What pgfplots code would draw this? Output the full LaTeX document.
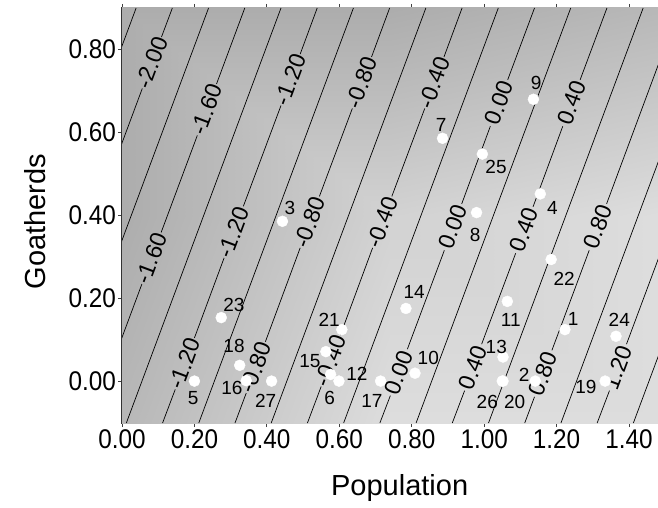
\documentclass[border=0pt]{standalone}
\usepackage{fontspec}
\setmainfont{Liberation Sans}
\newfontfamily\narrowsans[FakeStretch=0.9]{Liberation Sans}
\usepackage{pgfplots}
\usepackage{pgfplotstable}
\pgfplotsset{compat=1.18}

% sites: position, label, label offset (pt) from the dot
\pgfplotstableread{
x     y     lab dx    dy
1.223 0.125 1   8.3   10.7
1.141 0.001 2   -11   6.7
0.443 0.386 3   7.4   13
1.155 0.452 4   12    -14
0.200 0.001 5   -1.3  -17.3
0.576 0.017 6   -1    -24
0.885 0.586 7   -1.3  13.3
0.979 0.407 8   -1.3  -22.3
1.136 0.680 9   2.7   16.3
0.809 0.020 10  13.3  15.4
1.064 0.193 11  3.4   -18.3
0.599 0.001 12  18    7.7
1.052 0.059 13  -6.7  10
0.784 0.176 14  8.3   16.6
0.563 0.072 15  -16   -9.7
0.343 0.002 16  -14.3 -7
0.714 0.001 17  -8.7  -20
0.325 0.039 18  -5.7  19
1.334 0.001 19  -19.3 -6
1.052 0.001 20  11.7  -21
0.607 0.125 21  -12.7 10
1.185 0.294 22  13    -19
0.274 0.154 23  12.7  12.3
1.364 0.109 24  3.3   16.7
0.995 0.548 25  13.7  -13
1.050 0.001 26  -15   -21
0.413 0.001 27  -6    -20
}\sites

\begin{document}
\begin{tikzpicture}[
  cline/.style={black, line width=0.7pt},
  clab/.style={sloped, inner sep=0pt, font=\fontsize{23}{23}\selectfont},
]
\begin{axis}[
  at={(0,0)}, anchor=south west,
  scale only axis, width=536pt, height=415pt,
  xmin=0, xmax=1.48, ymin=-0.1, ymax=0.9,
  unbounded coords=jump,
  xtick={0,0.2,0.4,0.6,0.8,1.0,1.2,1.4},
  ytick={0,0.2,0.4,0.6,0.8},
  xtick pos=both, ytick pos=left,
  tick align=outside, major tick length=4pt,
  tick style={black!75, line width=0.8pt},
  axis line style={black!80, line width=1.3pt},
  /pgf/number format/fixed, /pgf/number format/fixed zerofill,
  /pgf/number format/precision=2,
  /pgf/number format/assume math mode=true,
  tick label style={font=\narrowsans\fontsize{27}{27}\selectfont},
  xticklabel style={inner sep=2pt},
  yticklabel style={inner sep=2pt},
  xlabel={Population}, ylabel={Goatherds},
  label style={font=\fontsize{29}{29}\selectfont},
  xlabel style={at={(axis description cs:0.518,0)}, anchor=base, yshift=-72pt},
  ylabel style={at={(axis description cs:-0.162,0.485)}, anchor=center},
  colormap={greyramp}{rgb255=(135,135,135) rgb255=(232,232,232)},
  point meta min=-2.2777, point meta max=1.5353,
]
% background surface, coloured by the fitted value
\addplot[matrix plot*, shader=interp, point meta=explicit, mesh/cols=2] coordinates {
  (0,-0.1) [-1.4247] (1.48,-0.1) [1.5353]
  (0,0.9) [-2.2777] (1.48,0.9) [0.6823]
};

% contour lines, interval 0.2 (labelled ones broken where the label sits)
\addplot[cline] coordinates {(-0.388,-0.1) (0.039,0.9)};
\addplot[cline] coordinates {(-0.288,-0.1) (0.056,0.706) (nan,nan) (0.109,0.830) (0.139,0.9)};
\addplot[cline] coordinates {(-0.188,-0.1) (0.239,0.9)};
\addplot[cline] coordinates {(-0.088,-0.1) (0.055,0.235) (nan,nan) (0.108,0.359) (0.208,0.593)
  (nan,nan) (0.261,0.717) (0.339,0.9)};
\addplot[cline] coordinates {(0.012,-0.1) (0.439,0.9)};
\addplot[cline] coordinates {(0.112,-0.1) (0.147,-0.019) (nan,nan) (0.200,0.105) (0.282,0.298)
  (nan,nan) (0.335,0.422) (0.439,0.665) (nan,nan) (0.492,0.789) (0.539,0.9)};
\addplot[cline] coordinates {(0.212,-0.1) (0.639,0.9)};
\addplot[cline] coordinates {(0.312,-0.1) (0.343,-0.028) (nan,nan) (0.396,0.096) (0.492,0.322)
  (nan,nan) (0.545,0.446) (0.636,0.658) (nan,nan) (0.689,0.782) (0.739,0.9)};
\addplot[cline] coordinates {(0.412,-0.1) (0.839,0.9)};
\addplot[cline] coordinates {(0.512,-0.1) (0.550,-0.012) (nan,nan) (0.603,0.112) (0.692,0.322)
  (nan,nan) (0.745,0.446) (0.836,0.658) (nan,nan) (0.889,0.782) (0.939,0.9)};
\addplot[cline] coordinates {(0.612,-0.1) (1.039,0.9)};
\addplot[cline] coordinates {(0.712,-0.1) (0.741,-0.034) (nan,nan) (0.788,0.078) (0.890,0.316)
  (nan,nan) (0.938,0.428) (1.017,0.615) (nan,nan) (1.065,0.727) (1.139,0.9)};
\addplot[cline] coordinates {(0.812,-0.1) (1.239,0.9)};
\addplot[cline] coordinates {(0.912,-0.1) (0.946,-0.022) (nan,nan) (0.993,0.090) (1.087,0.309)
  (nan,nan) (1.135,0.421) (1.217,0.615) (nan,nan) (1.265,0.727) (1.339,0.9)};
\addplot[cline] coordinates {(1.012,-0.1) (1.439,0.9)};
\addplot[cline] coordinates {(1.112,-0.1) (1.139,-0.037) (nan,nan) (1.187,0.075) (1.290,0.316)
  (nan,nan) (1.338,0.428) (1.539,0.9)};
\addplot[cline] coordinates {(1.212,-0.1) (1.639,0.9)};
\addplot[cline] coordinates {(1.312,-0.1) (1.346,-0.022) (nan,nan) (1.393,0.090) (1.739,0.9)};
\addplot[cline] coordinates {(1.412,-0.1) (1.839,0.9)};

% contour labels, placed along the (invisible) full lines
\addplot[draw=none] coordinates {(-0.288,-0.1) (0.139,0.9)}
  node[clab,pos=0.868] {-2.00};
\addplot[draw=none] coordinates {(-0.088,-0.1) (0.339,0.9)}
  node[clab,pos=0.397] {-1.60} node[clab,pos=0.755] {-1.60};
\addplot[draw=none] coordinates {(0.112,-0.1) (0.539,0.9)}
  node[clab,pos=0.143] {-1.20} node[clab,pos=0.46] {-1.20}
  node[clab,pos=0.827] {-1.20};
\addplot[draw=none] coordinates {(0.312,-0.1) (0.739,0.9)}
  node[clab,pos=0.134] {-0.80} node[clab,pos=0.484] {-0.80}
  node[clab,pos=0.82] {-0.80};
\addplot[draw=none] coordinates {(0.512,-0.1) (0.939,0.9)}
  node[clab,pos=0.15] {-0.40} node[clab,pos=0.484] {-0.40}
  node[clab,pos=0.82] {-0.40};
\addplot[draw=none] coordinates {(0.712,-0.1) (1.139,0.9)}
  node[clab,pos=0.122] {0.00} node[clab,pos=0.472] {0.00}
  node[clab,pos=0.771] {0.00};
\addplot[draw=none] coordinates {(0.912,-0.1) (1.339,0.9)}
  node[clab,pos=0.134] {0.40} node[clab,pos=0.465] {0.40}
  node[clab,pos=0.771] {0.40};
\addplot[draw=none] coordinates {(1.112,-0.1) (1.539,0.9)}
  node[clab,pos=0.119] {0.80} node[clab,pos=0.472] {0.80};
\addplot[draw=none] coordinates {(1.312,-0.1) (1.739,0.9)}
  node[clab,pos=0.134] {1.20};

% sites
\addplot[only marks, mark=*, mark size=5.5pt,
  mark options={fill=white, draw=white},
  point meta=explicit symbolic,
  visualization depends on={\thisrow{dx}\as\dx},
  visualization depends on={\thisrow{dy}\as\dy},
  nodes near coords,
  nodes near coords style={anchor=center, inner sep=0pt,
    xshift=\dx pt, yshift=\dy pt, text=black,
    font=\fontsize{19}{19}\selectfont},
] table[x=x, y=y, meta=lab] {\sites};
\end{axis}
\pgfresetboundingbox
\path[use as bounding box] (-122pt,-84pt) rectangle (536pt,423pt);
\end{tikzpicture}
\end{document}
